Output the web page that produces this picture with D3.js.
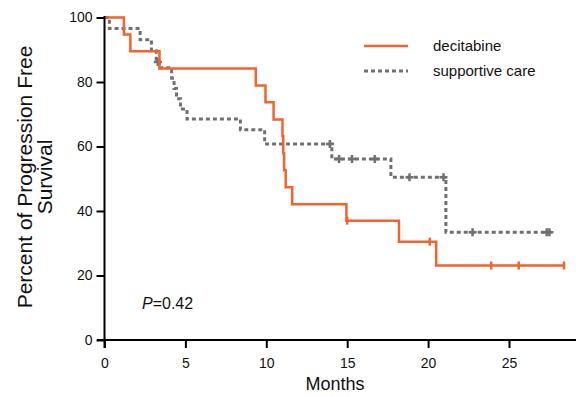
<!doctype html>
<html lang="en">
<head>
  <meta charset="UTF-8">
  <title>PFS</title>
  <script src="https://cdn.jsdelivr.net/npm/d3@7/dist/d3.min.js"></script>
  <style>
    body { margin: 0; background: #fff; }
    svg { display: block; font-family: "Liberation Sans", Arial, sans-serif; }
  </style>
</head>
<body>
<div id="chart"></div>
<script>
  // step times (months) and percent progression free
  var decTimes  = [0, 1.2, 1.6, 3.4, 9.35, 9.95, 10.45, 11.0, 11.05, 11.1, 11.2, 11.6, 14.95, 18.2, 20.5];
  var decValues = [100, 94.7, 89.5, 84.2, 78.9, 73.7, 68.4, 63.2, 57.9, 52.6, 47.4, 42.1, 37.0, 30.5, 23.1];
  var decEnd = 28.4;
  var decCensor = [15.0, 20.1, 23.9, 25.6, 28.4];

  var supTimes  = [0, 0.3, 2.2, 2.9, 3.2, 3.4, 4.15, 4.3, 4.45, 4.7, 5.1, 8.4, 9.9, 14.05, 17.7, 21.1];
  var supValues = [100, 96.6, 93.1, 89.7, 86.2, 84.4, 81.2, 78.0, 74.8, 71.6, 68.5, 65.2, 60.8, 56.1, 50.5, 33.4];
  var supEnd = 27.8;
  var supCensor = [3.3, 13.93, 14.5, 15.3, 16.7, 18.85, 20.95, 22.75, 27.33, 27.5];

  var xTicks = [0, 5, 10, 15, 20, 25];
  var yTicks = [0, 20, 40, 60, 80, 100];
  var seriesNames = ["decitabine", "supportive care"];

  var width = 576, height = 397;
  var orange = "#f4622e", grey = "#6f7073";

  var x = d3.scaleLinear().domain([0, 30]).range([104.5, 104.5 + 16.18 * 30]);
  var y = d3.scaleLinear().domain([0, 100]).range([340, 17.5]);

  var svg = d3.select("#chart").append("svg")
      .attr("width", width)
      .attr("height", height);

  function stepPoints(times, values, end) {
    var pts = times.map(function(t, i) { return [t, values[i]]; });
    pts.push([end, values[values.length - 1]]);
    return pts;
  }
  function valueAt(times, values, t) {
    var v = values[0];
    for (var i = 0; i < times.length; i++) if (times[i] <= t) v = values[i];
    return v;
  }

  var line = d3.line()
      .x(function(d) { return x(d[0]); })
      .y(function(d) { return y(d[1]); })
      .curve(d3.curveStepAfter);

  // supportive care (dotted grey)
  svg.append("path")
      .datum(stepPoints(supTimes, supValues, supEnd))
      .attr("d", line)
      .attr("fill", "none")
      .attr("stroke", grey)
      .attr("stroke-width", 3)
      .attr("stroke-dasharray", "4,3");

  svg.selectAll(".supCensor").data(supCensor).enter().append("path")
      .attr("class", "supCensor")
      .attr("d", function(t) {
        var cx = x(t), cy = y(valueAt(supTimes, supValues, t));
        return "M" + cx + "," + (cy - 4) + "V" + (cy + 4) + "M" + (cx - 4) + "," + cy + "H" + (cx + 4);
      })
      .attr("stroke", grey)
      .attr("stroke-width", 2.5);

  // decitabine (solid orange)
  svg.append("path")
      .datum(stepPoints(decTimes, decValues, decEnd))
      .attr("d", line)
      .attr("fill", "none")
      .attr("stroke", orange)
      .attr("stroke-width", 2.5);

  svg.selectAll(".decCensor").data(decCensor).enter().append("line")
      .attr("class", "decCensor")
      .attr("x1", function(t) { return x(t); })
      .attr("x2", function(t) { return x(t); })
      .attr("y1", function(t) { return y(valueAt(decTimes, decValues, t)) - 4; })
      .attr("y2", function(t) { return y(valueAt(decTimes, decValues, t)) + 4; })
      .attr("stroke", orange)
      .attr("stroke-width", 2.5);

  // axes
  var xAxis = d3.axisBottom(x).tickValues(xTicks).tickSize(8).tickPadding(10);
  var gx = svg.append("g").attr("transform", "translate(0,340)").call(xAxis);
  gx.select(".domain").remove();
  gx.append("line").attr("x1", 97).attr("x2", width).attr("stroke", "#000").attr("stroke-width", 2);

  var yAxis = d3.axisLeft(y).tickValues(yTicks).tickSize(8).tickPadding(4);
  var gy = svg.append("g").attr("transform", "translate(104.5,0)").call(yAxis);
  gy.select(".domain").remove();
  gy.append("line").attr("y1", 16).attr("y2", 348).attr("stroke", "#000").attr("stroke-width", 2);

  svg.selectAll(".tick line").attr("stroke", "#000").attr("stroke-width", 2);
  svg.selectAll(".tick text").attr("fill", "#111").style("font-size", "14px")
      .style("font-family", "'Liberation Sans', Arial, sans-serif");

  // axis titles
  svg.append("text")
      .attr("x", 335).attr("y", 390)
      .attr("text-anchor", "middle")
      .style("font-size", "18px")
      .attr("fill", "#111")
      .text("Months");

  var yTitle = svg.append("text")
      .attr("transform", "translate(32,177) rotate(-90)")
      .attr("text-anchor", "middle")
      .style("font-size", "21px")
      .attr("fill", "#111");
  yTitle.append("tspan").attr("x", 0).attr("y", 0).text("Percent of Progression Free");
  yTitle.append("tspan").attr("x", 0).attr("y", 20).text("Survival");

  // p value
  var pText = svg.append("text").attr("x", 142).attr("y", 309).style("font-size", "16px").attr("fill", "#111");
  pText.append("tspan").style("font-style", "italic").text("P");
  pText.append("tspan").text("=0.42");

  // legend
  var legend = svg.append("g");
  legend.append("line").attr("x1", 364).attr("x2", 408).attr("y1", 46).attr("y2", 46)
      .attr("stroke", orange).attr("stroke-width", 2.5);
  legend.append("line").attr("x1", 364).attr("x2", 408).attr("y1", 71).attr("y2", 71)
      .attr("stroke", grey).attr("stroke-width", 3).attr("stroke-dasharray", "4,3");
  legend.selectAll("text").data(seriesNames).enter().append("text")
      .attr("x", 433)
      .attr("y", function(d, i) { return 51 + i * 25; })
      .style("font-size", "15px")
      .attr("fill", "#111")
      .text(function(d) { return d; });
</script>
</body>
</html>
